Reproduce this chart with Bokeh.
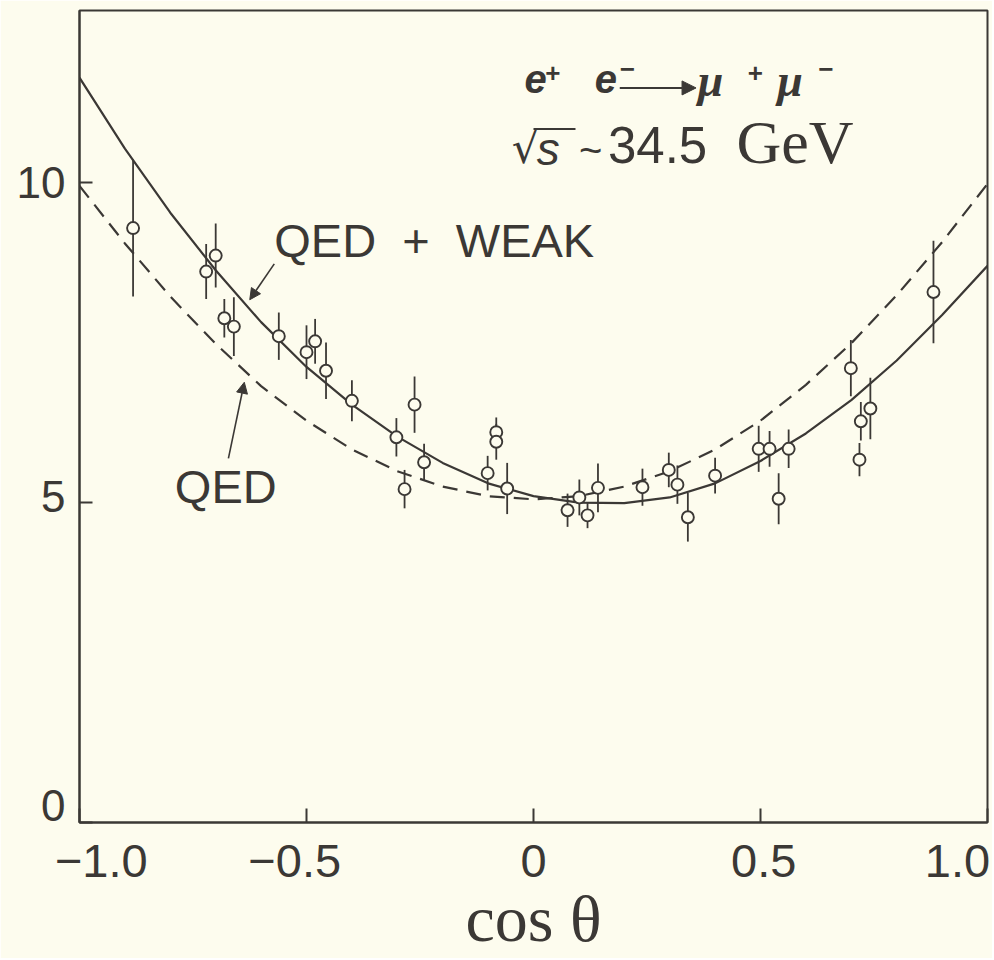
import numpy as np
from bokeh.plotting import figure
from bokeh.models import (Label, Arrow, NormalHead, FixedTicker, Range1d, ColumnDataSource,
                          LinearAxis, CustomJSTickFormatter)
from bokeh.embed import file_html
from bokeh.resources import INLINE

# ---- theory curves at steps of 0.1 in cos(theta)
curve_x = [-1.0, -0.9, -0.8, -0.7, -0.6, -0.5, -0.4, -0.3, -0.2, -0.1, 0.0,
           0.1, 0.2, 0.3, 0.4, 0.5, 0.6, 0.7, 0.8, 0.9, 1.0]
qed_weak = [11.64, 10.53, 9.53, 8.63, 7.82, 7.12, 6.53, 6.03, 5.62, 5.30, 5.10,
            5.00, 4.99, 5.08, 5.30, 5.65, 6.08, 6.60, 7.22, 7.93, 8.70]
qed = [9.95, 9.05, 8.22, 7.48, 6.82, 6.28, 5.83, 5.49, 5.25, 5.10, 5.05,
       5.10, 5.25, 5.49, 5.83, 6.28, 6.84, 7.49, 8.24, 9.07, 9.98]

# ---- measured points
cos_theta = [-0.882, -0.700, -0.721, -0.681, -0.660, -0.561, -0.500, -0.481, -0.457,
             -0.400, -0.262, -0.302, -0.241, -0.284, -0.101, -0.082, -0.082, -0.058,
             0.075, 0.101, 0.119, 0.142, 0.240, 0.298, 0.317, 0.340, 0.400, 0.496,
             0.520, 0.562, 0.540, 0.699, 0.742, 0.721, 0.718, 0.881]
rate = [9.29, 8.86, 8.61, 7.88, 7.75, 7.60, 7.35, 7.52, 7.06,
        6.59, 6.53, 6.02, 5.63, 5.21, 5.46, 6.10, 5.95, 5.22,
        4.88, 5.08, 4.80, 5.23, 5.24, 5.51, 5.28, 4.77, 5.42, 5.84,
        5.84, 5.84, 5.06, 7.10, 6.47, 6.27, 5.67, 8.29]
err = [1.07, 0.50, 0.43, 0.30, 0.46, 0.37, 0.42, 0.35, 0.44,
       0.32, 0.44, 0.30, 0.29, 0.30, 0.27, 0.23, 0.28, 0.40,
       0.26, 0.28, 0.20, 0.38, 0.29, 0.27, 0.30, 0.38, 0.28, 0.36,
       0.28, 0.30, 0.40, 0.44, 0.48, 0.30, 0.26, 0.80]

x_ticks = [-1.0, -0.5, 0.0, 0.5, 1.0]
x_tick_labels = ["\u22121.0", "\u22120.5", "0", "0.5", "1.0"]
x_tick_label_shift = [0.048, -0.026, 0.0, 0.007, -0.066]   # label nudges (style only)
y_ticks = [0, 5, 10]
y_tick_labels = ["0", "5", "10"]
y_tick_label_shift = [0.27, 0.09, 0.0]                      # label nudges (style only)

INK = "#3b3835"
BG = "#fdfcee"
SANS = "Liberation Sans"
SERIF = "Liberation Serif"

p = figure(width=992, height=958, x_range=Range1d(-1, 1), y_range=Range1d(0, 12.69),
           output_backend="svg", toolbar_location=None,
           min_border_left=79, min_border_right=5, min_border_top=10, min_border_bottom=136)
p.background_fill_color = BG
p.border_fill_color = BG
p.grid.visible = False
p.outline_line_color = INK
p.outline_line_width = 2

for ax in (p.xaxis[0], p.yaxis[0]):
    ax.axis_line_color = INK
    ax.axis_line_width = 2
    ax.major_tick_line_color = INK
    ax.major_tick_line_width = 2
    ax.major_tick_out = 0
    ax.minor_tick_line_color = None
    ax.major_label_overrides = {}
    ax.major_label_text_font_size = "0px"
    ax.major_label_standoff = 0

# main axes: tick marks only
p.xaxis.ticker = FixedTicker(ticks=x_ticks)
p.xaxis.major_tick_in = 14
p.xaxis.major_label_overrides = {t: "" for t in x_ticks}
p.yaxis.ticker = FixedTicker(ticks=y_ticks)
p.yaxis.major_tick_in = 13
p.yaxis.major_label_overrides = {t: "" for t in y_ticks}

def label_axis(range_name, ticks, shifts, labels):
    a = LinearAxis(x_range_name=range_name) if range_name == "xlab" else LinearAxis(y_range_name=range_name)
    a.ticker = FixedTicker(ticks=[t + d for t, d in zip(ticks, shifts)])
    a.formatter = CustomJSTickFormatter(args=dict(labels=labels), code="return labels[index]")
    a.axis_line_color = None
    a.major_tick_line_color = None
    a.minor_tick_line_color = None
    a.major_tick_in = 0
    a.major_tick_out = 0
    a.major_label_text_font = SANS
    a.major_label_text_color = INK
    return a

# label axes: carry the tick labels (nudged like the original) and the x title
p.extra_x_ranges = {"xlab": Range1d(-1, 1)}
p.extra_y_ranges = {"ylab": Range1d(0, 12.69)}

xl = label_axis("xlab", x_ticks, x_tick_label_shift, x_tick_labels)
xl.major_label_standoff = 22
xl.major_label_text_font_size = "47px"
xl.axis_label = "cos \u03b8"
xl.axis_label_text_font = SERIF
xl.axis_label_text_font_style = "normal"
xl.axis_label_text_font_size = "66px"
xl.axis_label_text_color = INK
xl.axis_label_standoff = 2
p.add_layout(xl, "below")

yl = label_axis("ylab", y_ticks, y_tick_label_shift, y_tick_labels)
yl.major_label_standoff = 14
yl.major_label_text_font_size = "44px"
p.add_layout(yl, "left")

# curves
p.line(curve_x, qed_weak, line_width=2.2, line_color=INK)
p.line(curve_x, qed, line_width=2.2, line_color=INK, line_dash="15 9")

# data with error bars
src = ColumnDataSource(dict(x=cos_theta, y=rate,
                            lo=np.array(rate) - np.array(err),
                            hi=np.array(rate) + np.array(err)))
p.segment(x0="x", y0="lo", x1="x", y1="hi", source=src, line_color=INK, line_width=1.8)
p.scatter(x="x", y="y", source=src, marker="circle", size=12, fill_color=BG,
          line_color=INK, line_width=1.9)

def lab(x, y, text, size, font=SANS, style="normal", align="left"):
    # y is the wanted baseline; Bokeh sits the text a little lower, so lift it
    lift = 0.42 * size / 64.0
    p.add_layout(Label(x=x, y=y + lift, text=text, text_font=font, text_font_size=f"{size}px",
                       text_font_style=style, text_color=INK, text_align=align,
                       text_baseline="alphabetic"))

# curve labels and pointers
lab(-0.571, 8.78, "QED \u00a0+\u00a0 WEAK", 47)
lab(-0.79, 4.95, "QED", 47)
p.add_layout(Arrow(x_start=-0.571, y_start=8.73, x_end=-0.625, y_end=8.17, line_color=INK,
                   line_width=1.6, end=NormalHead(size=11, fill_color=INK, line_color=INK)))
p.add_layout(Arrow(x_start=-0.672, y_start=5.69, x_end=-0.637, y_end=6.88, line_color=INK,
                   line_width=1.6, end=NormalHead(size=11, fill_color=INK, line_color=INK)))

# reaction
lab(-0.02, 11.36, "e", 40, style="bold italic")
lab(0.026, 11.55, "+", 26, style="bold")
lab(0.135, 11.36, "e", 40, style="bold italic")
lab(0.190, 11.60, "\u2212", 26, style="bold")
p.add_layout(Arrow(x_start=0.190, y_start=11.48, x_end=0.358, y_end=11.48, line_color=INK,
                   line_width=2, end=NormalHead(size=14, fill_color=INK, line_color=INK)))
lab(0.362, 11.30, "\u03bc", 46, font=SERIF, style="bold italic")
lab(0.472, 11.55, "+", 26, style="bold")
lab(0.537, 11.30, "\u03bc", 46, font=SERIF, style="bold italic")
lab(0.627, 11.60, "\u2212", 26, style="bold")

# energy
p.add_layout(Label(x=-0.048, y=10.54, text="\u221a", text_font="DejaVu Sans",
                   text_font_size="43px", text_color=INK, text_baseline="middle"))
lab(0.007, 10.23, "s", 46, style="italic")
p.segment(x0=[0.0], y0=[10.84], x1=[0.0925], y1=[10.84], line_color=INK, line_width=2)
lab(0.100, 10.25, "~", 40)
lab(0.164, 10.25, "34.5", 51)
lab(0.447, 10.23, "GeV", 62, font=SERIF)

open("out.html", "w").write(file_html(p, INLINE))
